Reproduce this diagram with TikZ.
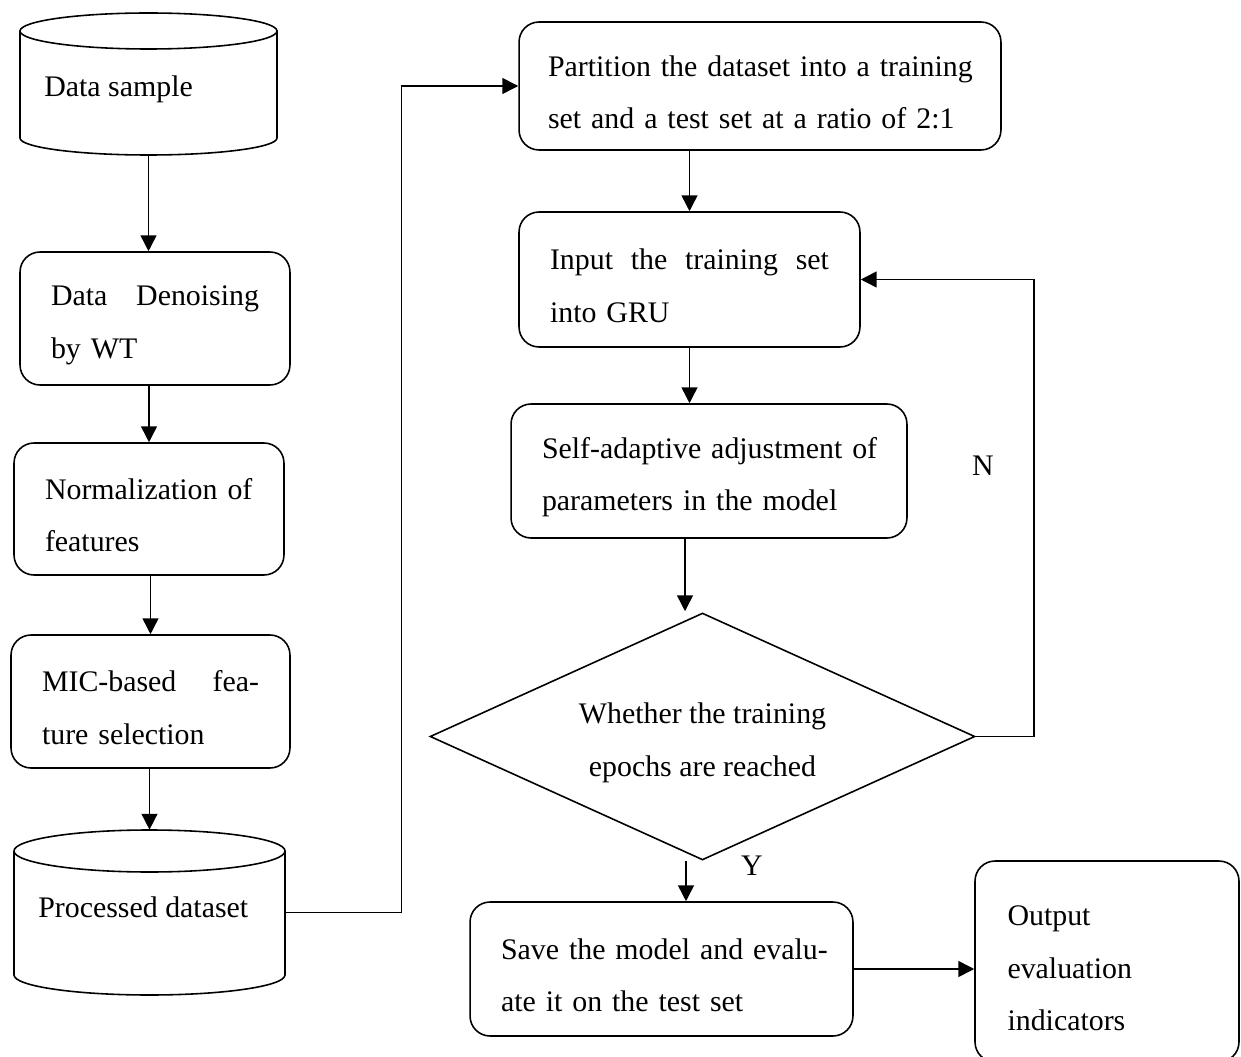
\documentclass[tikz,border=0pt]{standalone}
\usepackage{fontspec}
\setmainfont{Liberation Serif}
\usetikzlibrary{shapes.geometric,arrows.meta,calc}
\newcommand{\oneline}[1]{\mbox{#1}}
\newcommand{\jline}[1]{\hbox to \linewidth{#1}}
\newcommand{\topstrut}{\rule{0pt}{19pt}}
\begin{document}
\begin{tikzpicture}[x=0.02cm,y=-0.02cm,
  every node/.style={font=\fontsize{17}{30}\selectfont},
  box/.style={draw, rounded corners=0.4cm, line width=0.9pt, align=left, inner sep=0pt},
  cylbody/.style={inner sep=0pt},
  arr/.style={line width=0.9pt, -{Triangle[length=9pt,width=9pt]}},
  lnst/.style={line width=0.9pt}]
\useasboundingbox (0,0) rectangle (1241,1057);
\clip (0,0) rectangle (1241,1057);

% left column
\node[cylbody, minimum width=5.14cm, minimum height=2.84cm] (ds) at (148.5,84) {};
\draw[lnst] (148.5,31) ellipse [x radius=128.5, y radius=18];
\draw[lnst] (20,31) -- (20,138) arc[start angle=180, end angle=0, x radius=128.5, y radius=17] -- (277,31);
\node[anchor=base west, inner sep=0pt] (dst) at (44,97) {Data sample};

\node[box, minimum width=5.4cm, minimum height=2.66cm, text width=4.16cm] (dd) at (155,318.5)
  {\jline{\topstrut Data\hfill Denoising}\\\oneline{by WT}};
\node[box, minimum width=5.4cm, minimum height=2.64cm, text width=4.16cm] (nf) at (149,509)
  {\oneline{\topstrut Normalization of}\\\oneline{features}};
\node[box, minimum width=5.58cm, minimum height=2.66cm, text width=4.34cm] (mic) at (150.5,701.5)
  {\jline{\topstrut MIC-based\hfill fea-}\\\oneline{ture selection}};

\node[cylbody, minimum width=5.42cm, minimum height=3.3cm] (pd) at (149.5,912.5) {};
\draw[lnst] (149.5,851) ellipse [x radius=135.5, y radius=21];
\draw[lnst] (14,851) -- (14,975) arc[start angle=180, end angle=0, x radius=135.5, y radius=20] -- (285,851);
\node[anchor=base west, inner sep=0pt] (pdt) at (38,917) {Processed dataset};

% right column
\node[box, minimum width=9.64cm, minimum height=2.56cm, text width=8.48cm] (part) at (760,86)
  {\oneline{\topstrut Partition the dataset into a training}\\\oneline{set and a test set at a ratio of 2:1}};
\node[box, minimum width=6.82cm, minimum height=2.7cm, text width=5.58cm] (inp) at (689.5,279.5)
  {\jline{\topstrut Input\hfill the\hfill training\hfill set}\\\oneline{into GRU}};
\node[box, minimum width=7.92cm, minimum height=2.68cm, text width=6.68cm] (sa) at (709,471)
  {\oneline{\topstrut Self-adaptive adjustment of}\\\oneline{parameters in the model}};
\node[draw, diamond, aspect=2.2, minimum width=10.9cm, minimum height=4.94cm, inner sep=0pt,
  line width=0.9pt, align=center] (dia) at (702.5,736.5)
  {\topstrut Whether the training\\epochs are reached};
\node[box, minimum width=7.66cm, minimum height=2.68cm, text width=6.42cm] (save) at (661.5,969)
  {\oneline{\topstrut Save the model and evalu-}\\\oneline{ate it on the test set}};
\node[box, minimum width=5.28cm, minimum height=4.02cm, text width=3.98cm] (out) at (1107,961.5)
  {\oneline{\topstrut Output}\\\oneline{evaluation}\\\oneline{indicators}};

\node (nl) at (983,466) {N};
\node (yl) at (752,866) {Y};

% connectors
\draw[arr] (ds.south) -- (ds.south |- dd.north);
\draw[arr] (nf.north |- dd.south) -- (nf.north);
\draw[arr] (mic.north |- nf.south) -- (mic.north);
\draw[arr] (pd.north |- mic.south) -- (pd.north);
\draw[arr] (pd.east) -- ++(116,0) |- (part.west);
\draw[arr] (inp.north |- part.south) -- (inp.north);
\draw[arr] (inp.south) -- (inp.south |- sa.north);
\draw[arr] ([xshift=-0.48cm]sa.south) -- ([xshift=-0.35cm,yshift=0.02cm]dia.north);
\draw[arr] ([xshift=-0.33cm]dia.south) -- ([xshift=-0.33cm]dia.south |- save.north);
\draw[arr] (dia.east) -- ++(58,0) |- (inp.east);
\draw[arr] (save.east) -- (save.east -| out.west);
\end{tikzpicture}
\end{document}
